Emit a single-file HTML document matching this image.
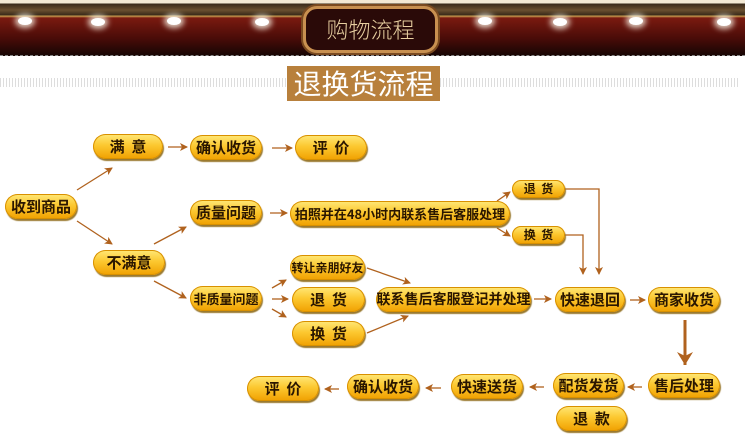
<!DOCTYPE html>
<html><head><meta charset="utf-8"><style>
*{margin:0;padding:0;box-sizing:border-box}
body{width:745px;height:441px;background:#fff;position:relative;overflow:hidden;font-family:"Liberation Sans","Noto Sans CJK SC",sans-serif}
.hdr{position:absolute;left:0;top:0;width:745px;height:56px;background:linear-gradient(#f3e9d4 0,#f3e9d4 3px,#3a2a1a 4px,#6a5030 10px,#3a2a1a 15px,#c9a050 16px,#7a1a10 18px,#4a0c08 38px,#1a0604 54px)}
.dash{position:absolute;left:0;top:55px;width:745px;height:0;border-top:1px dashed #888}
.light{position:absolute;width:14px;height:8px;border-radius:50%;background:#fff;box-shadow:0 0 6px 3px rgba(255,255,240,.8)}
.plaque{position:absolute;left:303px;top:6px;width:135px;height:47px;border:3px solid #c89050;border-radius:14px;background:#2a0a08;box-shadow:0 0 0 2px #7a4a20;color:#e8cfa0;font-size:22px;text-align:center;line-height:40px;font-family:"Noto Sans CJK SC",sans-serif;font-weight:300}
.stripe{position:absolute;top:78px;height:9px;background:repeating-linear-gradient(90deg,#ddd 0,#ddd 1px,#fff 1px,#fff 3px)}
.title{position:absolute;left:287px;top:66px;width:153px;height:35px;background:#b8803c;color:#fff;font-size:28px;line-height:35px;text-align:center;font-family:"Noto Sans CJK SC",sans-serif}
.p{position:absolute;height:25px;border-radius:13px;background:linear-gradient(#ffe878 0,#fcc830 45%,#f0a000 100%);box-shadow:1px 2px 1px #9a7a30,inset 0 0 0 1px #d89000;color:#2a1600;font-size:15px;line-height:25px;text-align:center;font-weight:bold;font-family:"Noto Sans CJK SC",sans-serif;white-space:nowrap}
.s{font-size:12px;height:18px;line-height:18px;border-radius:9px}
svg{position:absolute;left:0;top:0}
</style></head><body>
<div class="hdr"></div>
<div class="dash"></div>
<div class="light" style="left:18px;top:17px"></div>
<div class="light" style="left:91px;top:18px"></div>
<div class="light" style="left:167px;top:17px"></div>
<div class="light" style="left:255px;top:18px"></div>
<div class="light" style="left:478px;top:17px"></div>
<div class="light" style="left:553px;top:18px"></div>
<div class="light" style="left:629px;top:17px"></div>
<div class="light" style="left:717px;top:18px"></div>
<div class="plaque">购物流程</div>
<div class="stripe" style="left:0;width:287px"></div>
<div class="stripe" style="left:440px;width:300px"></div>
<div class="title">退换货流程</div>

<svg width="745" height="441">
<defs><marker id="a" markerWidth="8" markerHeight="8" refX="7" refY="4" orient="auto" markerUnits="userSpaceOnUse"><path d="M0,0 L8,4 L0,8 L2,4z" fill="#b0621e"/></marker>
<marker id="b" markerWidth="16" markerHeight="14" refX="8" refY="13" orient="0" markerUnits="userSpaceOnUse"><path d="M0,0 L8,13 L16,0 L8,4z" fill="#b0621e"/></marker></defs>
<g stroke="#b0621e" stroke-width="1.3" fill="none" marker-end="url(#a)">
<line x1="77" y1="190" x2="112" y2="168"/>
<line x1="77" y1="221" x2="112" y2="244"/>
<line x1="168" y1="147" x2="187" y2="147"/>
<line x1="272" y1="148" x2="292" y2="148"/>
<line x1="154" y1="244" x2="186" y2="227"/>
<line x1="154" y1="281" x2="186" y2="298"/>
<line x1="270" y1="213" x2="287" y2="213"/>
<line x1="272" y1="288" x2="286" y2="280"/>
<line x1="272" y1="299" x2="288" y2="299"/>
<line x1="272" y1="309" x2="286" y2="317"/>
<line x1="367" y1="268" x2="410" y2="283"/>
<line x1="367" y1="333" x2="408" y2="316"/>
<line x1="497" y1="201" x2="510" y2="192"/>
<line x1="497" y1="228" x2="510" y2="236"/>
<line x1="534" y1="299" x2="551" y2="299"/>
<line x1="630" y1="300" x2="645" y2="300"/>
<polyline points="565,189 599,189 599,274"/>
<polyline points="565,235 583,235 583,274"/>
<line x1="642" y1="387" x2="628" y2="387"/>
<line x1="544" y1="387" x2="530" y2="387"/>
<line x1="441" y1="388" x2="426" y2="388"/>
<line x1="339" y1="389" x2="325" y2="389"/>
</g>
<line x1="685" y1="320" x2="685" y2="365" stroke="#b0621e" stroke-width="3" marker-end="url(#b)"/>
</svg>

<div class="p" style="left:93px;top:134px;width:70px">满&nbsp;&nbsp;意</div>
<div class="p" style="left:190px;top:135px;width:72px">确认收货</div>
<div class="p" style="left:295px;top:135px;width:72px">评&nbsp;&nbsp;价</div>
<div class="p" style="left:5px;top:194px;width:72px">收到商品</div>
<div class="p" style="left:190px;top:200px;width:72px">质量问题</div>
<div class="p" style="left:290px;top:201px;width:220px;font-size:13px">拍照并在48小时内联系售后客服处理</div>
<div class="p s" style="left:512px;top:180px;width:53px">退&nbsp;&nbsp;货</div>
<div class="p s" style="left:512px;top:226px;width:53px">换&nbsp;&nbsp;货</div>
<div class="p" style="left:93px;top:250px;width:72px">不满意</div>
<div class="p" style="left:290px;top:255px;width:75px;font-size:12px">转让亲朋好友</div>
<div class="p" style="left:190px;top:286px;width:72px;font-size:13px">非质量问题</div>
<div class="p" style="left:292px;top:287px;width:73px">退&nbsp;&nbsp;货</div>
<div class="p" style="left:292px;top:321px;width:73px">换&nbsp;&nbsp;货</div>
<div class="p" style="left:376px;top:287px;width:155px;font-size:14px">联系售后客服登记并处理</div>
<div class="p" style="left:555px;top:287px;width:70px">快速退回</div>
<div class="p" style="left:648px;top:287px;width:72px">商家收货</div>
<div class="p" style="left:648px;top:373px;width:72px">售后处理</div>
<div class="p" style="left:553px;top:373px;width:71px">配货发货</div>
<div class="p" style="left:556px;top:406px;width:71px">退&nbsp;&nbsp;款</div>
<div class="p" style="left:451px;top:374px;width:72px">快速送货</div>
<div class="p" style="left:347px;top:374px;width:72px">确认收货</div>
<div class="p" style="left:247px;top:376px;width:72px">评&nbsp;&nbsp;价</div>
</body></html>
